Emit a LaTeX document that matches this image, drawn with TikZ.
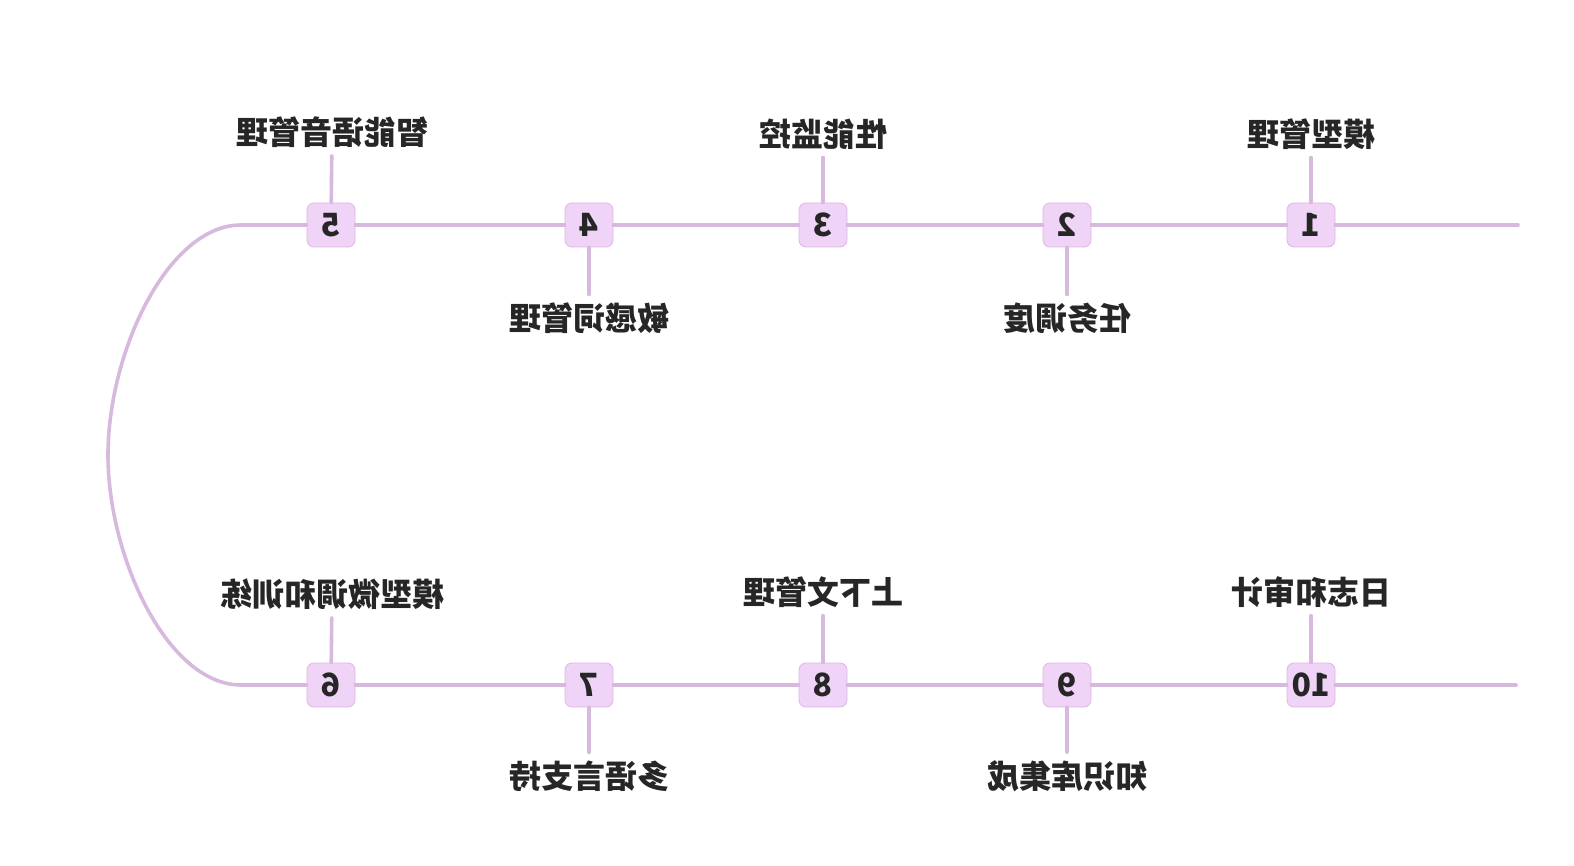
\documentclass[tikz,border=0pt]{standalone}
\usepackage{fontspec}
\setmainfont{Noto Sans CJK SC}
\usepackage{tikz}

\definecolor{linec}{HTML}{D8B9DE}
\definecolor{boxfill}{HTML}{F0D4F7}
\definecolor{boxline}{HTML}{DDB6E7}
\definecolor{txt}{HTML}{262626}

\begin{document}
\begin{tikzpicture}[x=1pt,y=-1pt,
 tl/.style={line width=3.6pt, draw=linec, line cap=round},
 numbox/.style={draw=boxline, fill=boxfill, line width=0.8pt, rounded corners=7pt, minimum width=48pt, minimum height=44pt, inner sep=0pt, text=txt, font=\bfseries\fontsize{32}{32}\selectfont, xscale=-1},
 lbl/.style={inner sep=0pt, text=txt, font=\bfseries\fontsize{32}{32}\selectfont, xscale=-1}]
 \useasboundingbox (0,0) rectangle (1574,866);
 % top row
 \node[numbox] (b1) at (1311,225) {1};
 \node[numbox] (b2) at (1067,225) {2};
 \node[numbox] (b3) at (823,225) {3};
 \node[numbox] (b4) at (589,225) {4};
 \node[numbox] (b5) at (331,225) {5};
 \node[lbl] (l1) at (1311,134) {模型管理};
 \node[lbl] (l2) at (1067,318) {任务调度};
 \node[lbl] (l3) at (823,134) {性能监控};
 \node[lbl] (l4) at (589,318) {敏感词管理};
 \node[lbl] (l5) at (332,132) {智能语音管理};
 % bottom row
 \node[numbox] (b6) at (331,685) {6};
 \node[numbox] (b7) at (589,685) {7};
 \node[numbox] (b8) at (823,685) {8};
 \node[numbox] (b9) at (1067,685) {9};
 \node[numbox] (b10) at (1311,685) {10};
 \node[lbl] (l6) at (332,594) {模型微调和训练};
 \node[lbl] (l7) at (589,776) {多语言支持};
 \node[lbl] (l8) at (823,592) {上下文管理};
 \node[lbl] (l9) at (1067,776) {知识库集成};
 \node[lbl] (l10) at (1311,592) {日志和审计};
 \coordinate (e1) at (1518,225);
 \coordinate (e10) at (1516,685);
 \coordinate (c5) at (241,225);
 \coordinate (c6) at (241,685);
 % the line
 \draw[tl] (e1) -- (b1);
 \draw[tl] (b1) -- (b2);
 \draw[tl] (b2) -- (b3);
 \draw[tl] (b3) -- (b4);
 \draw[tl] (b4) -- (b5);
 \draw[tl] (b5) -- (c5) .. controls (168,225) and (108,352) .. (108,455)
   .. controls (108,558) and (168,685) .. (c6) -- (b6);
 \draw[tl] (b6) -- (b7);
 \draw[tl] (b7) -- (b8);
 \draw[tl] (b8) -- (b9);
 \draw[tl] (b9) -- (b10);
 \draw[tl] (b10) -- (e10);
 % ticks
 \draw[tl, shorten >=8pt] (b1) -- (l1);
 \draw[tl, shorten >=8pt] (b2) -- (l2);
 \draw[tl, shorten >=8pt] (b3) -- (l3);
 \draw[tl, shorten >=8pt] (b4) -- (l4);
 \draw[tl, shorten >=8pt] (b5) -- (l5);
 \draw[tl, shorten >=8pt] (b6) -- (l6);
 \draw[tl, shorten >=8pt] (b7) -- (l7);
 \draw[tl, shorten >=8pt] (b8) -- (l8);
 \draw[tl, shorten >=8pt] (b9) -- (l9);
 \draw[tl, shorten >=8pt] (b10) -- (l10);
\end{tikzpicture}
\end{document}
